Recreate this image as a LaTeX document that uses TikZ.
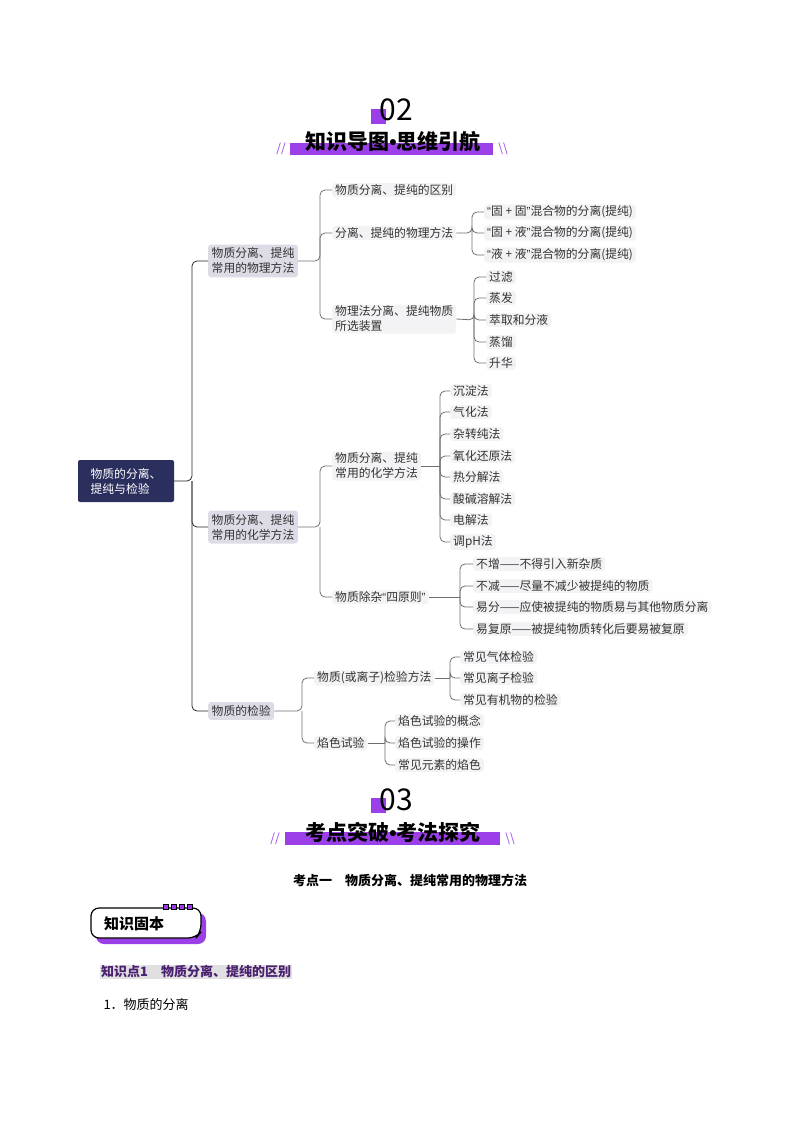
\documentclass[tikz,border=0pt]{standalone}
\usepackage{fontspec}
\setmainfont{Noto Sans CJK SC}
\newfontfamily\cjk{Noto Sans CJK SC}
\newfontfamily\lat{Liberation Sans}
\newcommand{\myLq}{{\lat “}}
\newcommand{\myRq}{{\lat ”}}
\usetikzlibrary{calc}
\definecolor{pur}{HTML}{9B3FE8}
\definecolor{navy}{HTML}{2B2F5E}
\definecolor{lone}{HTML}{DCDBE6}
\definecolor{leaf}{HTML}{F3F3F5}
\definecolor{lnk}{HTML}{6E6E6E}
\definecolor{kp}{HTML}{4B2070}
\begin{document}
\begin{tikzpicture}[x=1pt,y=-1pt,
  every node/.style={font=\cjk\fontsize{11.8}{15}\selectfont, text=black!80},
  leaf/.style={fill=leaf,rounded corners=3pt,inner xsep=3pt,inner ysep=1.5pt,anchor=west,align=left},
  l1/.style={fill=lone,rounded corners=3pt,inner sep=3.5pt,anchor=west,align=left},
  root/.style={fill=navy,rounded corners=2pt,text=white,inner sep=6pt,align=left,minimum width=96pt,minimum height=42pt},
  ln/.style={draw=lnk,line width=0.8pt,rounded corners=5pt},
  big/.style={font=\cjk\fontsize{30}{30}\selectfont, text=black},
  ttl/.style={font=\cjk\bfseries\fontsize{21}{22}\selectfont, text=black},
  sl/.style={font=\cjk\fontsize{12}{12}\selectfont, text=pur}]
\useasboundingbox (0,0) rectangle (794,1123);
% header 02
\fill[pur] (371,109) rectangle (386,124);
\node[big] (n02) at (396,110) {02};
\fill[pur] (290,143) rectangle (493,155);
\node[ttl] (t1) at (393,142) {知识导图{\lat\textbullet}思维引航};
\node[sl] (s1) at (281,149) {//};
\node[sl] (s2) at (503,149) {\textbackslash\textbackslash};
% root
\node[root] (r) at (126,481) {物质的分离、\\提纯与检验};
\node[l1] (a) at (208,261) {物质分离、提纯\\常用的物理方法};
\node[l1] (b) at (208,527) {物质分离、提纯\\常用的化学方法};
\node[l1] (c) at (208,711) {物质的检验};
\coordinate (ta) at (192,481);
\draw[ln,draw=black!85] (r.east) -- (ta) |- (a.west);
\draw[ln,draw=black!85] (ta) |- (b.west);
\draw[ln,draw=black!85] (ta) |- (c.west);
% physical
\node[leaf] (a1) at (332,190) {物质分离、提纯的区别};
\node[leaf] (a2) at (332,233) {分离、提纯的物理方法};
\node[leaf] (a3) at (332,319) {物理法分离、提纯物质\\所选装置};
\coordinate (tA) at (320,261);
\draw[ln] (a.east) -- (tA) |- (a1.west);
\draw[ln] (tA) |- (a2.west);
\draw[ln] (tA) |- (a3.west);
\node[leaf] (a21) at (484,212) {\myLq 固 + 固\myRq 混合物的分离(提纯)};
\node[leaf] (a22) at (484,233) {\myLq 固 + 液\myRq 混合物的分离(提纯)};
\node[leaf] (a23) at (484,255) {\myLq 液 + 液\myRq 混合物的分离(提纯)};
\coordinate (tA2) at (472,233);
\draw[ln] (a2.east) -- (tA2) |- (a21.west);
\draw[ln] (tA2) |- (a22.west);
\draw[ln] (tA2) |- (a23.west);
\node[leaf] (d1) at (486,277) {过滤};
\node[leaf] (d2) at (486,298) {蒸发};
\node[leaf] (d3) at (486,320) {萃取和分液};
\node[leaf] (d4) at (486,342) {蒸馏};
\node[leaf] (d5) at (486,363) {升华};
\coordinate (tD) at (474,320);
\draw[ln] (a3.east) -- (tD) |- (d1.west);
\draw[ln] (tD) |- (d2.west);
\draw[ln] (tD) |- (d3.west);
\draw[ln] (tD) |- (d4.west);
\draw[ln] (tD) |- (d5.west);
% chemical
\node[leaf] (b1) at (332,466) {物质分离、提纯\\常用的化学方法};
\node[leaf] (b2) at (332,597) {物质除杂\myLq 四原则\myRq};
\coordinate (tB) at (320,527);
\draw[ln] (b.east) -- (tB) |- (b1.west);
\draw[ln] (tB) |- (b2.west);
\node[leaf] (m1) at (450,391) {沉淀法};
\node[leaf] (m2) at (450,412) {气化法};
\node[leaf] (m3) at (450,434) {杂转纯法};
\node[leaf] (m4) at (450,456) {氧化还原法};
\node[leaf] (m5) at (450,477) {热分解法};
\node[leaf] (m6) at (450,499) {酸碱溶解法};
\node[leaf] (m7) at (450,520) {电解法};
\node[leaf] (m8) at (450,542) {调pH法};
\coordinate (tM) at (440,466);
\draw[ln] (b1.east) -- (tM);
\foreach \i in {1,...,8} {\draw[ln] (tM) |- (m\i.west);}
\node[leaf] (p1) at (473,564) {不增——不得引入新杂质};
\node[leaf] (p2) at (473,586) {不减——尽量不减少被提纯的物质};
\node[leaf] (p3) at (473,607) {易分——应使被提纯的物质易与其他物质分离};
\node[leaf] (p4) at (473,629) {易复原——被提纯物质转化后要易被复原};
\coordinate (tP) at (460,597);
\draw[ln] (b2.east) -- (tP);
\foreach \i in {1,...,4} {\draw[ln] (tP) |- (p\i.west);}
% detection
\node[leaf] (c1) at (314,678) {物质(或离子)检验方法};
\node[leaf] (c2) at (314,743) {焰色试验};
\coordinate (tC) at (302,711);
\draw[ln] (c.east) -- (tC) |- (c1.west);
\draw[ln] (tC) |- (c2.west);
\node[leaf] (e1) at (460,657) {常见气体检验};
\node[leaf] (e2) at (460,678) {常见离子检验};
\node[leaf] (e3) at (460,700) {常见有机物的检验};
\coordinate (tE) at (450,678);
\draw[ln] (c1.east) -- (tE);
\foreach \i in {1,2,3} {\draw[ln] (tE) |- (e\i.west);}
\node[leaf] (f1) at (395,721) {焰色试验的概念};
\node[leaf] (f2) at (395,743) {焰色试验的操作};
\node[leaf] (f3) at (395,765) {常见元素的焰色};
\coordinate (tF) at (385,743);
\draw[ln] (c2.east) -- (tF);
\foreach \i in {1,2,3} {\draw[ln] (tF) |- (f\i.west);}
% header 03
\fill[pur] (371,798) rectangle (386,813);
\node[big] (n03) at (396,800) {03};
\fill[pur] (285,832) rectangle (500,845);
\node[ttl] (t2) at (393,832) {考点突破{\lat\textbullet}考法探究};
\node[sl] (s3) at (275,839) {//};
\node[sl] (s4) at (510,839) {\textbackslash\textbackslash};
\node[font=\cjk\bfseries\fontsize{13}{14}\selectfont,text=black] (kd) at (410,880) {考点一\quad 物质分离、提纯常用的物理方法};
% badge
\fill[pur,rounded corners=8pt] (96,913) rectangle (206,944);
\draw[black,line width=1.2pt,fill=white,rounded corners=8pt] (91,908) -- (91,938) -- (196,938) -- (201,932) -- (201,908) -- cycle;
\foreach \x in {163,171,179,187} {\draw[black,fill=pur,line width=0.6pt] (\x,904) rectangle ++(5,5);}
\node[font=\cjk\bfseries\fontsize{15}{15}\selectfont,text=black] (bd) at (134,924) {知识固本};
\node[fill=black!12,inner sep=1pt,anchor=west,font=\cjk\bfseries\fontsize{13}{14}\selectfont,text=kp] (kp1) at (100,972) {知识点1\quad 物质分离、提纯的区别};
\node[anchor=west,font=\cjk\fontsize{13}{14}\selectfont,text=black] (x1) at (100,1005) {1．物质的分离};
\end{tikzpicture}
\end{document}
